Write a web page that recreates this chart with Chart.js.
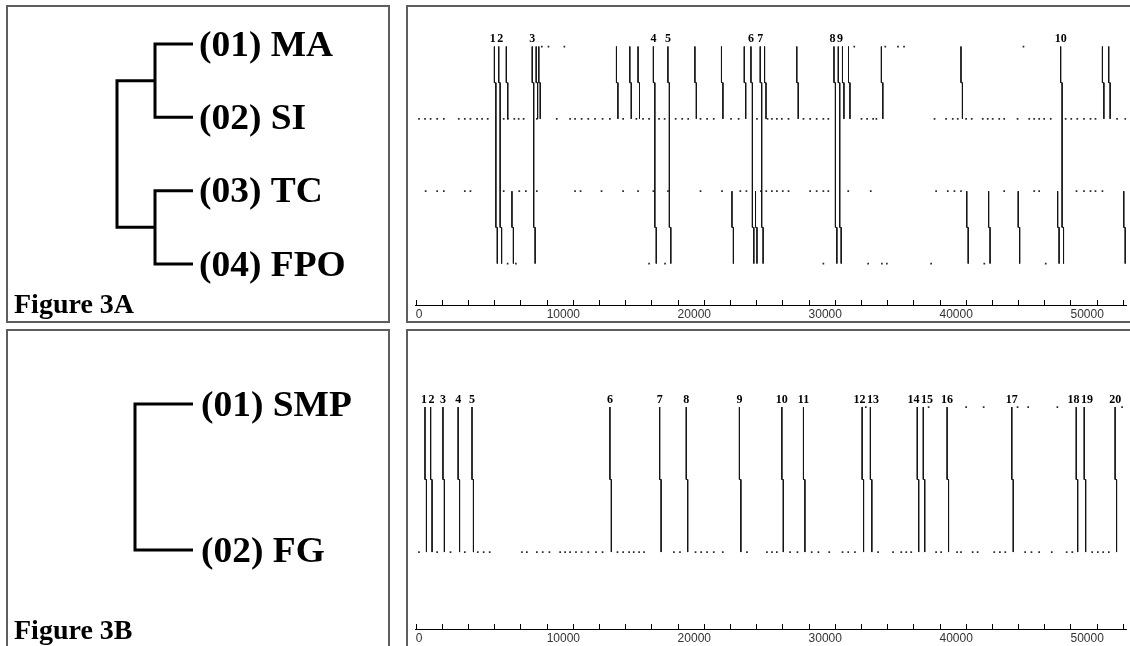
<!DOCTYPE html>
<html>
<head>
<meta charset="utf-8">
<title>Figure 3</title>
<script src="https://cdn.jsdelivr.net/npm/chart.js@4.4.1/dist/chart.umd.min.js"></script>
<style>
  html, body { margin: 0; padding: 0; background: #fff; }
  body { width: 1130px; height: 646px; position: relative; overflow: hidden; }
  .panel { position: absolute; border: 2px solid #5e5e5e; box-sizing: border-box; }
  canvas { position: absolute; }
  .fig { position: absolute; left: 14px; font: bold 28px "Liberation Serif", "Times New Roman", serif; line-height: 28px; color: #000; white-space: nowrap; }
</style>
</head>
<body>
<div class="panel" style="left:6px;top:5px;width:384px;height:318px"></div>
<div class="panel" style="left:406px;top:5px;width:740px;height:318px"></div>
<div class="panel" style="left:6px;top:329px;width:384px;height:330px"></div>
<div class="panel" style="left:406px;top:329px;width:740px;height:330px"></div>
<canvas id="treeA" width="380" height="313" style="left:8px;top:8px"></canvas>
<canvas id="mapA" width="722" height="313" style="left:408px;top:8px"></canvas>
<canvas id="treeB" width="380" height="314" style="left:8px;top:332px"></canvas>
<canvas id="mapB" width="722" height="314" style="left:408px;top:332px"></canvas>
<div class="fig" style="top:290px">Figure 3A</div>
<div class="fig" style="top:616px">Figure 3B</div>
<script>
// trees (cladograms)
const treeA = [["(01) MA", "(02) SI"], ["(03) TC", "(04) FPO"]];
const treeB = ["(01) SMP", "(02) FG"];

// x axis
const axisMax = 54240;
const axisStep = 2000;
const axisLabels = [0, 10000, 20000, 30000, 40000, 50000];

// Figure 3A: rows 4=MA, 3=SI, 2=TC, 1=FPO
const fullLinesA = [6010, 6340, 8900, 18150, 19260, 25600, 26310, 31940, 32270, 49250];
const topLinesA = [6920, 9200, 9400, 15330, 16350, 16980, 21320, 23350, 25090, 26640, 29100,
  32590, 33050, 35560, 41640, 52440, 52920];
const bottomLinesA = [7350, 24150, 25950, 42080, 43750, 46010, 49020, 54070];
const dotsA_MA = [9630, 10140, 11350, 33490, 35860, 36830, 37290, 46410];
const dotsA_SI = [250, 710, 1140, 1640, 2150, 3290, 3750, 4180, 4690, 5070, 5500, 6720, 7040,
  7530, 7860, 8240, 9250, 10770, 11790, 12170, 12670, 13180, 13690, 14270, 14830, 15840,
  16850, 17360, 17820, 18580, 19010, 19850, 20350, 20810, 21750, 22250, 22760, 24080, 24660,
  26060, 26870, 27200, 27580, 27960, 28470, 29610, 30120, 30620, 31130, 31510, 34040, 34470,
  34930, 35180, 39620, 40500, 41010, 41390, 42030, 42460, 43300, 43680, 44060, 44560, 44940,
  45960, 46850, 47230, 47610, 47990, 48490, 49630, 50060, 50520, 51030, 51530, 51910,
  53560, 54190];
const dotsA_TC = [760, 1640, 2150, 3750, 4180, 6720, 7910, 8410, 9250, 12170, 12590, 14190,
  15840, 16980, 18150, 19260, 21750, 23390, 24790, 25250, 26360, 26770, 27200, 27580, 28030,
  28470, 30120, 30620, 31130, 31510, 33030, 34750, 39740, 40630, 41140, 41640, 44940, 47230,
  47610, 50460, 51030, 51530, 51910, 52440];
const dotsA_FPO = [7020, 7650, 17820, 19040, 31130, 34550, 35600, 35980, 39360, 43420, 48110];

// Figure 3B: rows 2=SMP, 1=FG
const linesB = [710, 1140, 2080, 3240, 4300, 14830, 18630, 20660, 24720, 27960, 29610, 34090,
  34720, 38300, 38760, 40580, 45520, 50440, 51050, 53410];
const dotsB_SMP = [34370, 39170, 42030, 43370, 45960, 46770, 49000, 53940];
const dotsB_FG = [250, 1640, 2660, 3750, 4740, 5190, 5650, 8110, 8490, 9250, 9700, 10210, 11030,
  11410, 11790, 12240, 12670, 13180, 13770, 14270, 15410, 15840, 16300, 16650, 17060, 17440,
  19720, 20180, 21370, 21800, 22250, 22760, 23450, 25300, 26820, 27200, 27580, 28590, 29150,
  30240, 30750, 31580, 32590, 33030, 33540, 35310, 36450, 37080, 37460, 37840, 39740, 40120,
  41340, 41640, 42530, 42910, 44180, 44610, 45020, 46540, 47020, 47610, 48570, 49710, 50140,
  51660, 52090, 52500, 52930];

const JOG = 110;
const LINE_COLOR = "#141414";
const DOT_COLOR = "#2a2a2a";
const LABEL_GAP = 1.5;

// value range that puts v1 at pixel p1 and v2 at pixel p2 on an axis of given length
function range(p1, v1, p2, v2, size) {
  const k = (v2 - v1) / (p2 - p1);
  const a = v1 - k * p1;
  const b = v1 + k * (size - p1);
  return { min: Math.min(a, b), max: Math.max(a, b) };
}

function layoutTree(tree) {
  const paths = [];
  const leaves = [];
  const depth = (n) => (typeof n === "string" ? 0 : 1 + Math.max(...n.map(depth)));
  const count = (n) => (typeof n === "string" ? 1 : n.reduce((s, c) => s + count(c), 0));
  const maxDepth = depth(tree);
  let row = count(tree);
  function walk(node, d) {
    if (typeof node === "string") {
      const leaf = { name: node, x: maxDepth, y: row-- };
      leaves.push(leaf);
      return leaf;
    }
    const kids = node.map((c) => walk(c, d + 1));
    const first = kids[0];
    const last = kids[kids.length - 1];
    paths.push([
      { x: first.x, y: first.y },
      { x: d, y: first.y },
      { x: d, y: last.y },
      { x: last.x, y: last.y },
    ]);
    return { x: d, y: (first.y + last.y) / 2 };
  }
  walk(tree, 0);
  return { paths, leaves };
}

function leafLabels(leaves, gap) {
  return {
    id: "leafLabels",
    afterDatasetsDraw(chart) {
      const { ctx, scales: { x, y } } = chart;
      ctx.save();
      ctx.font = 'bold 35px "Liberation Serif", "Times New Roman", serif';
      ctx.fillStyle = "#000";
      ctx.textBaseline = "alphabetic";
      leaves.forEach((leaf) => {
        ctx.save();
        ctx.translate(x.getPixelForValue(leaf.x) + gap, y.getPixelForValue(leaf.y) + 11.6);
        ctx.scale(1.07, 1);
        ctx.fillText(leaf.name, 0, 0);
        ctx.restore();
      });
      ctx.restore();
    },
  };
}

function makeTree(id, tree, xr, yr, gap) {
  const { paths, leaves } = layoutTree(tree);
  new Chart(document.getElementById(id), {
    type: "scatter",
    data: {
      datasets: paths.map((p) => ({
        data: p,
        showLine: true,
        borderColor: "#000",
        borderWidth: 3,
        borderJoinStyle: "miter",
        borderCapStyle: "butt",
        pointRadius: 0,
        tension: 0,
      })),
    },
    options: {
      responsive: false,
      animation: false,
      events: [],
      layout: { padding: 0 },
      plugins: { legend: { display: false }, tooltip: { enabled: false } },
      scales: {
        x: { type: "linear", display: false, min: xr.min, max: xr.max },
        y: { type: "linear", display: false, min: yr.min, max: yr.max },
      },
    },
    plugins: [leafLabels(leaves, gap)],
  });
}

function tracePath(x, yFrom, yTo, jogs) {
  const pts = [{ x, y: yFrom }];
  let cx = x;
  jogs.forEach((j) => {
    pts.push({ x: cx, y: j });
    cx += JOG;
    pts.push({ x: cx, y: j });
  });
  pts.push({ x: cx, y: yTo });
  return pts;
}

function lineSet(points) {
  return {
    data: points,
    showLine: true,
    borderColor: LINE_COLOR,
    borderWidth: 1,
    pointRadius: 0,
    tension: 0,
  };
}

function dotSet(xs, row) {
  return {
    data: xs.map((v) => ({ x: v, y: row })),
    pointStyle: "rect",
    pointRadius: 1.2,
    borderWidth: 0,
    backgroundColor: DOT_COLOR,
  };
}

// numbers above the shared lines; neighbours that would overlap are spread apart
function numberLabels(xs, row) {
  return {
    id: "numberLabels",
    afterDatasetsDraw(chart) {
      const { ctx, scales: { x, y } } = chart;
      const top = y.getPixelForValue(row);
      ctx.save();
      ctx.font = 'bold 12px "Liberation Serif", "Times New Roman", serif';
      ctx.fillStyle = "#000";
      ctx.textAlign = "center";
      ctx.textBaseline = "alphabetic";

      const place = (g) => {
        const total = g.items.reduce((s, it) => s + it.w, 0) + LABEL_GAP * (g.items.length - 1);
        const mid = g.items.reduce((s, it) => s + it.px, 0) / g.items.length;
        let cur = mid - total / 2;
        g.left = cur;
        g.items.forEach((it) => {
          it.cx = cur + it.w / 2;
          cur += it.w + LABEL_GAP;
        });
        g.right = cur - LABEL_GAP;
      };
      const groups = [];
      xs.forEach((v, i) => {
        const text = String(i + 1);
        const g = { items: [{ text, px: x.getPixelForValue(v), w: ctx.measureText(text).width }] };
        place(g);
        groups.push(g);
        while (groups.length > 1) {
          const last = groups[groups.length - 1];
          const prev = groups[groups.length - 2];
          if (prev.right + LABEL_GAP <= last.left) break;
          prev.items.push(...last.items);
          groups.pop();
          place(prev);
        }
      });
      groups.forEach((g) => g.items.forEach((it) => ctx.fillText(it.text, it.cx, top - 4.5)));
      ctx.restore();
    },
  };
}

// short tick marks pointing up from the axis line
const upTicks = {
  id: "upTicks",
  afterDraw(chart) {
    const s = chart.scales.x;
    const b = chart.chartArea.bottom;
    const ctx = chart.ctx;
    ctx.save();
    ctx.strokeStyle = "#000";
    ctx.lineWidth = 1;
    ctx.beginPath();
    s.ticks.forEach((t) => {
      const px = Math.round(s.getPixelForValue(t.value)) + 0.5;
      ctx.moveTo(px, b);
      ctx.lineTo(px, b - 5);
    });
    ctx.stroke();
    ctx.restore();
  },
};

function makeMap(id, datasets, yr, axisHeight, numbered, numberRow) {
  return new Chart(document.getElementById(id), {
    type: "scatter",
    data: { datasets },
    options: {
      responsive: false,
      animation: false,
      events: [],
      layout: { padding: { left: 7.7, right: 0, top: 0, bottom: 0 } },
      plugins: { legend: { display: false }, tooltip: { enabled: false } },
      scales: {
        x: {
          type: "linear",
          min: 0,
          max: axisMax,
          grid: { display: false, drawTicks: false },
          border: { display: true, color: "#000", width: 1 },
          afterBuildTicks: (s) => {
            const ticks = [];
            for (let v = 0; v <= axisMax; v += axisStep) ticks.push({ value: v });
            s.ticks = ticks;
          },
          ticks: {
            autoSkip: false,
            maxRotation: 0,
            align: "start",
            padding: 2.5,
            color: "#333",
            font: { family: '"Liberation Sans", Arial, sans-serif', size: 12 },
            callback: (v) => (axisLabels.includes(v) ? String(v) : ""),
          },
          afterFit: (s) => { s.height = axisHeight; },
        },
        y: { type: "linear", display: false, min: yr.min, max: yr.max },
      },
    },
    plugins: [upTicks, numberLabels(numbered, numberRow)],
  });
}

// Figure 3A
makeTree("treeA", treeA, range(109, 0, 185, 2, 380), range(36, 4, 256, 1, 313), 6);
makeMap(
  "mapA",
  [
    ...fullLinesA.map((v) => lineSet(tracePath(v, 4, 1, [3.5, 1.5]))),
    ...topLinesA.map((v) => lineSet(tracePath(v, 4, 3, [3.5]))),
    ...bottomLinesA.map((v) => lineSet(tracePath(v, 2, 1, [1.5]))),
    dotSet(dotsA_MA, 4),
    dotSet(dotsA_SI, 3),
    dotSet(dotsA_TC, 2),
    dotSet(dotsA_FPO, 1),
  ],
  range(35, 4, 255, 1, 297),
  16,
  fullLinesA,
  4
);

// Figure 3B
makeTree("treeB", treeB, range(127, 0, 185, 1, 380), range(72, 2, 218, 1, 314), 8);
makeMap(
  "mapB",
  [
    ...linesB.map((v) => lineSet(tracePath(v, 2, 1, [1.5]))),
    dotSet(dotsB_SMP, 2),
    dotSet(dotsB_FG, 1),
  ],
  range(72, 2, 219, 1, 297),
  17,
  linesB,
  2
);
</script>
</body>
</html>
